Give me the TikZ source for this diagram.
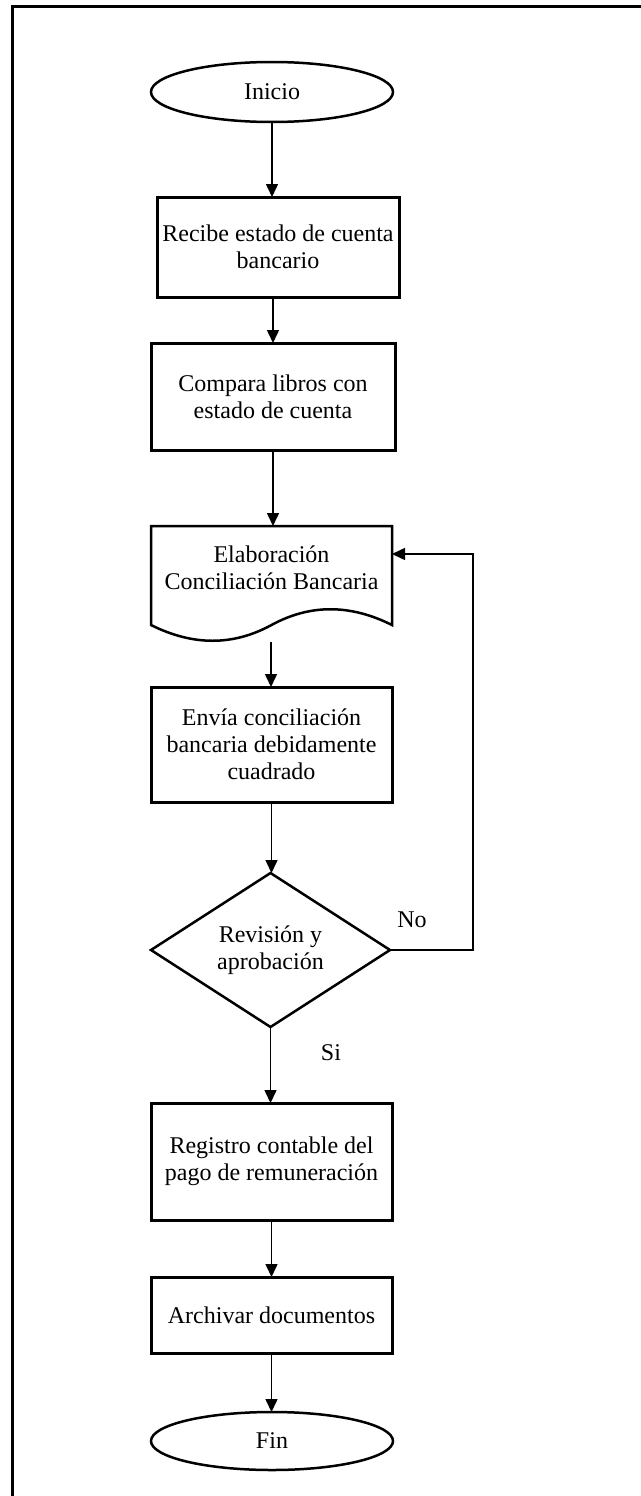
\documentclass[tikz,border=0pt]{standalone}
\usepackage{fontspec}
\setmainfont{Liberation Serif}
\usetikzlibrary{shapes.geometric,arrows.meta}
\begin{document}
\begin{tikzpicture}[x=1pt,y=-1pt,
  every node/.style={font=\fontsize{24}{27}\selectfont, inner sep=0pt, outer sep=0pt, align=center},
  procbox/.style={draw, line width=3pt, rectangle, minimum width=242pt},
  term/.style={draw, line width=2.5pt, ellipse, minimum width=242pt, minimum height=60pt},
  decis/.style={draw, line width=2.5pt, diamond, aspect=1.55, minimum width=239pt, minimum height=154pt},
  conn/.style={line width=1.5pt, -{Triangle[length=13pt,width=12pt]}}]
\useasboundingbox (0,0) rectangle (640,1496);
% frame
\draw[line width=3pt] (12,1500) -- (12,7) -- (644,7);
% nodes
\node[term] (inicio) at (272,92) {Inicio};
\node[procbox, minimum height=100pt] (recibe) at (278,247) {Recibe estado de cuenta\\bancario};
\node[procbox, minimum width=244pt, minimum height=107pt] (compara) at (273,396.5) {Compara libros con\\estado de cuenta};
\node[minimum width=241pt, minimum height=99pt] (doc) at (271.5,575.5) {};
\node (doctext) at (271.5,568) {Elaboración\\Conciliación Bancaria};
\draw[line width=2.5pt, line join=miter] (doc.south west) -- (doc.north west) -- (doc.north east) -- (doc.south east)
  .. controls (350,604) and (310,604) .. (271.5,625)
  .. controls (233,646) and (193,646) .. (doc.south west) -- cycle;
\coordinate (docout) at (271,642);
\node[procbox, minimum width=241pt, minimum height=115pt] (envia) at (271.5,744.5) {Envía conciliación\\bancaria debidamente\\cuadrado};
\node[decis] (rev) at (270.5,950) {Revisión y\\aprobación};
\node[procbox, minimum width=241pt, minimum height=117pt] (registro) at (271.5,1161.5) {Registro contable del\\pago de remuneración};
\node[procbox, minimum width=241pt, minimum height=76pt] (archivar) at (271.5,1315) {Archivar documentos};
\node[term, minimum height=58pt] (fin) at (272,1441) {Fin};
\node (no) at (412,920) {No};
\node (si) at (331,1053) {Si};
% connectors
\draw[conn] (inicio.south) -- (inicio.south |- recibe.north);
\draw[conn] (recibe.south -| compara.north) -- (compara.north);
\draw[conn] (compara.south) -- (compara.south |- doc.north);
\draw[conn] (docout) -- (docout |- envia.north);
\draw[conn] (envia.south) -- (envia.south |- rev.north);
\draw[conn] (rev.south) -- (rev.south |- registro.north);
\draw[conn] (registro.south) -- (archivar.north);
\draw[conn] (archivar.south) -- (archivar.south |- fin.north);
\coordinate (fbk) at (473,554);
\draw[conn] (rev.east) -| (fbk) -- (fbk -| doc.east);
\end{tikzpicture}
\end{document}
